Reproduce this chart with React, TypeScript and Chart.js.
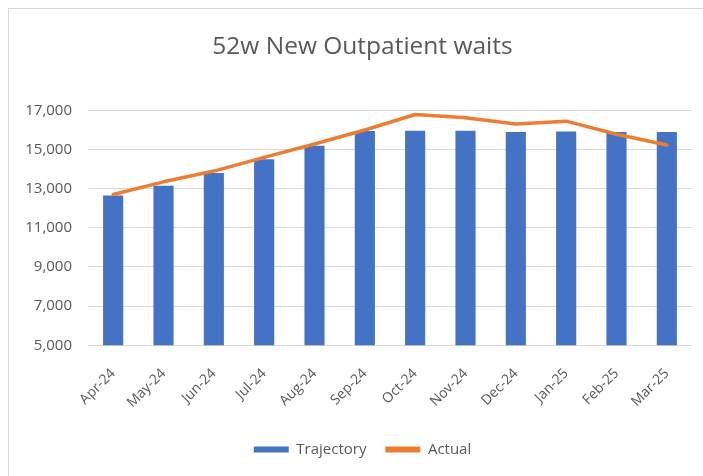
import { useEffect, useRef } from "react";
import { Chart, registerables } from "chart.js";

Chart.register(...registerables);

const months = ["Apr-24", "May-24", "Jun-24", "Jul-24", "Aug-24", "Sep-24", "Oct-24", "Nov-24", "Dec-24", "Jan-25", "Feb-25", "Mar-25"];
const trajectory = [12650, 13150, 13800, 14500, 15200, 15950, 15960, 15960, 15900, 15920, 15900, 15900];
const actual = [12700, 13350, 13900, 14600, 15280, 16000, 16790, 16620, 16300, 16450, 15780, 15230];
const yMin = 5000;
const yMax = 17000;
const yStep = 2000;
const titleText = "52w New Outpatient waits";

const FONT = "'Open Sans', 'Noto Sans', sans-serif";
const GREY = "#595959";

export default function App() {
  const ref = useRef<HTMLCanvasElement | null>(null);

  useEffect(() => {
    if (!ref.current) return;
    const chart = new Chart(ref.current, {
      type: "bar",
      data: {
        labels: months,
        datasets: [
          {
            type: "bar",
            label: "Trajectory",
            data: trajectory,
            backgroundColor: "#4472C4",
            borderWidth: 0,
            barPercentage: 0.4,
            categoryPercentage: 1,
            order: 1,
          },
          {
            type: "line",
            label: "Actual",
            data: actual,
            borderColor: "#ED7D31",
            backgroundColor: "#ED7D31",
            borderWidth: 3.5,
            pointRadius: 0,
            tension: 0,
            borderCapStyle: "round",
            borderJoinStyle: "round",
            order: 0,
          },
        ],
      },
      options: {
        responsive: false,
        animation: false,
        layout: { padding: { left: 0, right: 8, bottom: 9 } },
        plugins: {
          title: {
            display: true,
            text: titleText,
            color: GREY,
            font: { family: FONT, size: 24.5, weight: "normal" },
            padding: { top: 23, bottom: 49 },
          },
          legend: {
            position: "bottom",
            padding: { top: 21, bottom: 10, left: 10, right: 10 },
            labels: {
              color: GREY,
              font: { family: FONT, size: 15 },
              boxWidth: 35,
              boxHeight: 6,
              padding: 19,
              sort: (a: any, b: any) => a.datasetIndex - b.datasetIndex,
              generateLabels: (c: any) =>
                Chart.defaults.plugins.legend.labels.generateLabels(c).map((l: any) => ({ ...l, lineWidth: 0 })),
            },
          },
          tooltip: { enabled: false },
        },
        scales: {
          x: {
            grid: { display: false },
            border: { display: false },
            ticks: {
              color: GREY,
              font: { family: FONT, size: 14 },
              minRotation: 45,
              maxRotation: 45,
              padding: 12,
            },
          },
          y: {
            min: yMin,
            max: yMax,
            grid: { color: "#d9d9d9", drawTicks: false },
            border: { display: false },
            afterFit: (axis: any) => {
              axis.width = 74;
            },
            ticks: {
              stepSize: yStep,
              color: GREY,
              font: { family: FONT, size: 15 },
              padding: 16,
              callback: (v: any) => Number(v).toLocaleString("en-US"),
            },
          },
          yRight: {
            position: "right",
            min: yMin,
            max: yMax,
            grid: { display: false },
            border: { display: false },
            ticks: { display: false },
            afterFit: (axis: any) => {
              axis.width = 19;
            },
          },
        },
      },
    });
    return () => chart.destroy();
  }, []);

  return (
    <div style={{ position: "fixed", left: 8, top: 8, width: 720, height: 480, overflow: "hidden", background: "#fff" }}>
      <div style={{ width: 720, height: 480, borderLeft: "1px solid #d9d9d9", borderTop: "1px solid #d9d9d9", boxSizing: "border-box" }}>
        <canvas ref={ref} width={705} height={467} style={{ display: "block", marginLeft: 5 }} />
      </div>
    </div>
  );
}
